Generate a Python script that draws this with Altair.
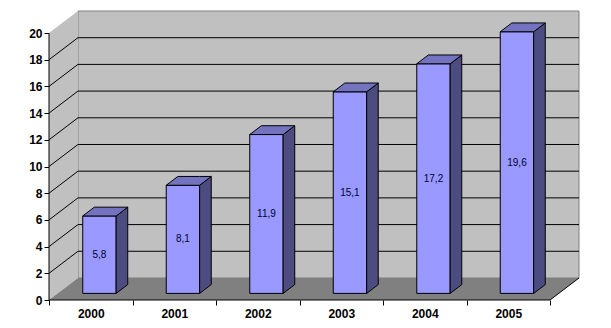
import json
import altair as alt
import pandas as pd

# ---- data ----
years = ["2000", "2001", "2002", "2003", "2004", "2005"]
values = [5.8, 8.1, 11.9, 15.1, 17.2, 19.6]
value_labels = [str(v).replace(".", ",") for v in values]
y_ticks = [0, 2, 4, 6, 8, 10, 12, 14, 16, 18, 20]
y_max = 20

# ---- oblique projection constants (style) ----
DX, DY = 0.347, 1.65      # full depth offset in x (category units) and y (value units)
D0, D1 = 0.3, 0.7         # bar front / back depth
BW = 0.4                  # bar width (category units)
N = len(years)

XS = alt.Scale(domain=[0, N + DX], nice=False, zero=False)
YS = alt.Scale(domain=[0, y_max + DY], nice=False, zero=False)

FONT = "Liberation Sans"
x_vals = [k * 0.5 for k in range(2 * N + 1)]
XAXIS = alt.Axis(
    values=x_vals, domain=False, grid=False, title=None,
    tickSize=5, tickColor="black",
    tickOpacity={"condition": {"test": "datum.value % 1 != 0", "value": 0}, "value": 1},
    labelExpr="datum.value % 1 == 0 ? '' : " + json.dumps(years) + "[floor(datum.value)]",
    labelFont=FONT, labelFontWeight="bold", labelFontSize=12, labelColor="black",
    labelPadding=3, labelOverlap=False, labelAngle=0,
)
YAXIS = alt.Axis(
    values=y_ticks, domain=False, grid=False, title=None, format="d",
    tickSize=5, tickColor="black",
    labelFont=FONT, labelFontWeight="bold", labelFontSize=12, labelColor="black",
    labelPadding=2, labelOverlap=False,
)


def X(f):
    return alt.X(f, type="quantitative", scale=XS, axis=XAXIS)


def Y(f):
    return alt.Y(f, type="quantitative", scale=YS, axis=YAXIS, stack=None)


# back wall
wall = pd.DataFrame({"x": [DX], "x2": [N + DX], "y": [DY], "y2": [y_max + DY]})
back = alt.Chart(wall).mark_rect(fill="#c0c0c0", stroke="#808080", strokeWidth=1).encode(
    x=X("x"), x2="x2", y=Y("y"), y2="y2")

# left wall
lw = pd.DataFrame({"x": [0, DX], "y": [0, DY], "y2": [y_max, y_max + DY]})
left = alt.Chart(lw).mark_area(fill="#c0c0c0", opacity=1).encode(
    x=X("x"), y=Y("y"), y2="y2")

# floor
fl = pd.DataFrame({"x": [0, DX, N, N + DX], "y": [0, 0, 0, DY], "y2": [0, DY, DY, DY]})
floor = alt.Chart(fl).mark_area(fill="#808080", opacity=1).encode(
    x=X("x"), y=Y("y"), y2="y2")

# back-wall gridlines
gv = [t for t in y_ticks if 0 < t < y_max]
grid = pd.DataFrame({"x": [DX] * len(gv), "x2": [N + DX] * len(gv), "y": [t + DY for t in gv]})
grid_back = alt.Chart(grid).mark_rule(color="black", strokeWidth=1).encode(
    x=X("x"), x2="x2", y=Y("y"))

# left-wall diagonals
dg = pd.DataFrame({"x": [0] * len(gv), "x2": [DX] * len(gv), "y": gv, "y2": [t + DY for t in gv]})
grid_left = alt.Chart(dg).mark_rule(color="black", strokeWidth=1).encode(
    x=X("x"), x2="x2", y=Y("y"), y2="y2")

# axis lines
al = pd.DataFrame({"x": [0, 0, N], "x2": [0, N, N + DX], "y": [0, 0, 0], "y2": [y_max, 0, DY]})
axis_lines = alt.Chart(al).mark_rule(color="black", strokeWidth=1).encode(
    x=X("x"), x2="x2", y=Y("y"), y2="y2")

# bars
fr_rows, side_rows, top_rows, lab_rows = [], [], [], []
a, b, c, d = D0 * DX, D0 * DY, D1 * DX, D1 * DY
for i, (yr, v, lab) in enumerate(zip(years, values, value_labels)):
    xl = i + 0.5 - BW / 2
    xr = i + 0.5 + BW / 2
    fr_rows.append({"year": yr, "x": xl + a, "x2": xr + a, "y": b, "y2": v + b})
    side_rows += [
        {"year": yr, "x": xr + a, "y": b, "y2": v + b},
        {"year": yr, "x": xr + c, "y": d, "y2": v + d},
    ]
    top_rows += [
        {"year": yr, "x": xl + a, "y": v + b, "y2": v + b},
        {"year": yr, "x": xl + c, "y": v + b, "y2": v + d},
        {"year": yr, "x": xr + a, "y": v + b, "y2": v + d},
        {"year": yr, "x": xr + c, "y": v + d, "y2": v + d},
    ]
    lab_rows.append({"year": yr, "x": i + 0.5 + a, "y": v / 2 + b, "label": lab})

front = alt.Chart(pd.DataFrame(fr_rows)).mark_rect(
    fill="#9999ff", stroke="black", strokeWidth=1).encode(
    x=X("x"), x2="x2", y=Y("y"), y2="y2")
side = alt.Chart(pd.DataFrame(side_rows)).mark_area(
    fill="#4c4c80", stroke="black", strokeWidth=1, opacity=1).encode(
    x=X("x"), y=Y("y"), y2="y2", detail="year:N")
top = alt.Chart(pd.DataFrame(top_rows)).mark_area(
    fill="#7373bf", stroke="black", strokeWidth=1, opacity=1).encode(
    x=X("x"), y=Y("y"), y2="y2", detail="year:N")
labels = alt.Chart(pd.DataFrame(lab_rows)).mark_text(
    font=FONT, fontSize=10, color="#000033", baseline="middle", align="center").encode(
    x=X("x"), y=Y("y"), text="label:N")

chart = alt.layer(
    back, left, floor, grid_back, grid_left, axis_lines, front, side, top, labels
).properties(
    width=530, height=289,
    autosize=alt.AutoSizeParams(type="none"),
    padding={"left": 49, "top": 11, "right": 32, "bottom": 28},
    background="white",
).configure_view(stroke=None)

chart.save("out.html", embed_options={"renderer": "svg", "actions": False})
